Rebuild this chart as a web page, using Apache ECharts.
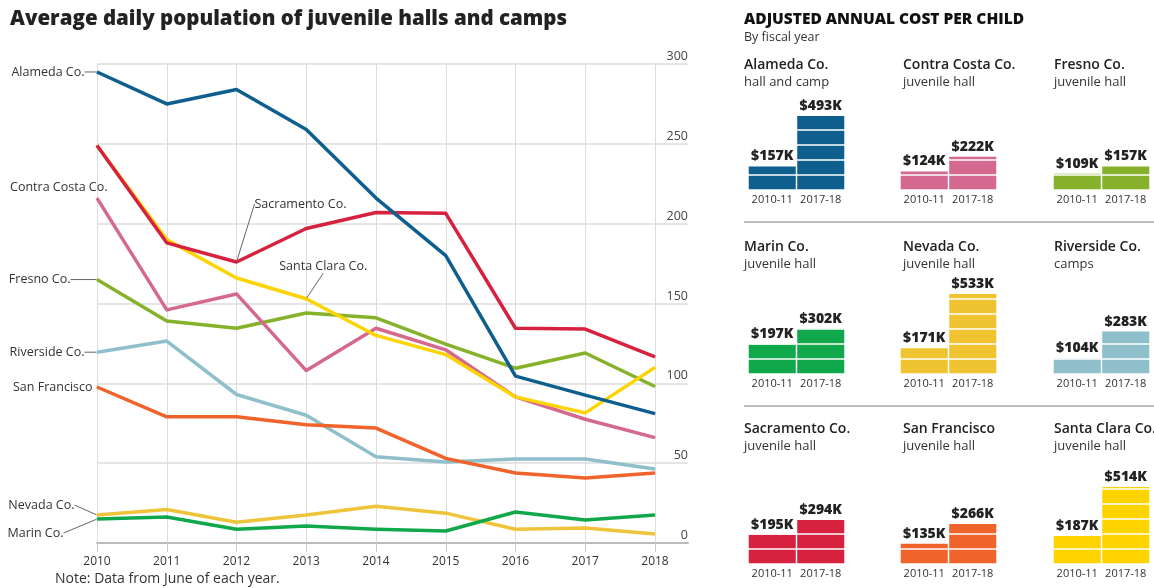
<!DOCTYPE html>
<html><head><meta charset="utf-8">
<script src="https://cdn.jsdelivr.net/npm/echarts@6/dist/echarts.min.js"></script>
<style>html,body{margin:0;padding:0;background:#fff}#c{width:1154px;height:588px}</style>
</head><body><div id="c"></div>
<script>
// ---- Data: average daily population ----
const years = ['2010','2011','2012','2013','2014','2015','2016','2017','2018'];
const alameda      = [295, 275, 284, 259, 216, 180, 104.5, 92.6, 81];
const sacramento   = [249, 188, 176, 197, 207, 206.5, 134.5, 134, 116.5];
const santaClara   = [249, 190, 166, 153, 130, 118, 91.5, 81.5, 110];
const contraCosta  = [216, 146, 156, 108, 134.5, 121, 91.5, 77.5, 66];
const fresno       = [165, 139, 134.5, 144, 141, 124.5, 109.5, 119, 98];
const riverside    = [119.5, 126.5, 93, 80, 54, 50.7, 52.6, 52.6, 46.3];
const sanFrancisco = [97.7, 79, 79, 74, 72, 53, 43.8, 40.7, 43.8];
const nevada       = [17.5, 21, 13, 17.5, 23, 18.7, 8.6, 9.4, 5.6];
const marin        = [15, 16.3, 8.6, 10.6, 8.6, 7.5, 19.4, 14.4, 17.5];
const popMin = 0, popMax = 300, popStep = 50;

// ---- Data: adjusted annual cost per child (thousand $) ----
const costCounties = ['Alameda Co.','Contra Costa Co.','Fresno Co.','Marin Co.','Nevada Co.','Riverside Co.','Sacramento Co.','San Francisco','Santa Clara Co.'];
const costTypes = ['hall and camp','juvenile hall','juvenile hall','juvenile hall','juvenile hall','camps','juvenile hall','juvenile hall','juvenile hall'];
const fiscalYears = ['2010-11','2017-18'];
const cost2010 = [157, 124, 109, 197, 171, 104, 195, 135, 187];
const cost2017 = [493, 222, 157, 302, 533, 283, 294, 266, 514];
const costMax = 600, costStep = 100;

// ---- Styling ----
const FONT = '"Open Sans", Roboto, sans-serif';
const C = {
  alameda:'#0f5f8e', sacramento:'#d6213f', santaClara:'#fdd400', contraCosta:'#d4688f',
  fresno:'#86b22b', riverside:'#8fbfca', sanFrancisco:'#f0632a', nevada:'#eec43a', marin:'#11a84b'
};
const costColors = [C.alameda, C.contraCosta, C.fresno, C.marin, '#f0c431', C.riverside, C.sacramento, C.sanFrancisco, '#fdd300'];

function lineSeries(name, data, color, lab) {
  const s = {
    type:'line', name, xAxisIndex:0, yAxisIndex:0,
    symbol:'circle', symbolSize:1, showSymbol:true, silent:true,
    lineStyle:{color, width:3.5, join:'round'}, itemStyle:{color},
    emphasis:{disabled:true},
    data: data.map((v,i) => (lab && i === lab.idx) ? {
      value:v,
      label:{show:true, formatter:name, position:lab.pos, distance:5,
             fontFamily:FONT, fontSize:12.5, color:'#333'}
    } : v)
  };
  if (lab) {
    s.labelLayout = {dx:lab.dx, dy:lab.dy};
    s.labelLine = {show:!!lab.leader, lineStyle:{color:'#666', width:1}};
  }
  return s;
}

const series = [
  lineSeries('Riverside Co.', riverside, C.riverside, {idx:0,pos:'left',dx:-7,dy:0,leader:true}),
  lineSeries('San Francisco', sanFrancisco, C.sanFrancisco, {idx:0,pos:'left',dx:1,dy:0,leader:false}),
  lineSeries('Nevada Co.', nevada, C.nevada, {idx:0,pos:'left',dx:-17,dy:-10,leader:true}),
  lineSeries('Marin Co.', marin, C.marin, {idx:0,pos:'left',dx:-28,dy:14,leader:true}),
  lineSeries('Fresno Co.', fresno, C.fresno, {idx:0,pos:'left',dx:-21,dy:0,leader:true}),
  lineSeries('Contra Costa Co.', contraCosta, C.contraCosta, {idx:0,pos:'left',dx:16,dy:-11,leader:false}),
  lineSeries('Santa Clara Co.', santaClara, C.santaClara, {idx:3,pos:'top',dx:17,dy:-20,leader:true}),
  lineSeries('Sacramento Co.', sacramento, C.sacramento, {idx:2,pos:'top',dx:64,dy:-46,leader:true}),
  lineSeries('Alameda Co.', alameda, C.alameda, {idx:0,pos:'left',dx:-7,dy:0,leader:true})
];

const grids = [
  {left:97, top:64, width:558, height:479},
  {left:97, top:64, width:591, height:479}
];
const xAxes = [
  {type:'category', gridIndex:0, data:years, boundaryGap:false,
   axisLine:{show:false},
   axisTick:{show:true, length:9, lineStyle:{color:'#ccc', width:1}},
   axisLabel:{margin:13, fontFamily:FONT, fontSize:12, color:'#333'},
   splitLine:{show:true, lineStyle:{color:'#ddd', width:1}}},
  {type:'value', gridIndex:1, min:0, max:1,
   axisLine:{show:true, lineStyle:{color:'#bbb', width:2}},
   axisTick:{show:false}, axisLabel:{show:false}, splitLine:{show:false}}
];
const yAxes = [
  {type:'value', gridIndex:0, min:popMin, max:popMax, show:false},
  {type:'value', gridIndex:1, min:popMin, max:popMax, interval:popStep, position:'right',
   axisLine:{show:false}, axisTick:{show:false},
   splitLine:{show:true, lineStyle:{color:'#ddd', width:1.5}},
   axisLabel:{inside:true, verticalAlign:'bottom', margin:0, padding:[0,0,1,0],
              fontFamily:FONT, fontSize:12.5, color:'#444'}}
];

const titles = [
  {text:'Average daily population of juvenile halls and camps', left:10, top:9, padding:0,
   textStyle:{fontFamily:FONT, fontSize:20.5, fontWeight:800, color:'#222'}},
  {text:'ADJUSTED ANNUAL COST PER CHILD', subtext:'By fiscal year', left:744, top:12, padding:0, itemGap:3,
   textStyle:{fontFamily:FONT, fontSize:15.5, fontWeight:800, color:'#111'},
   subtextStyle:{fontFamily:FONT, fontSize:12.5, color:'#333'}},
  {text:'Note: Data from June of each year.', left:55, top:572, padding:0,
   textStyle:{fontFamily:FONT, fontSize:14, fontWeight:'normal', color:'#333'}}
];

const colLeft = [748, 900, 1053];
const titleLeft = [744, 903, 1054];
const rowTop = [100, 284, 474];
const titleTop = [58, 240, 422];

costCounties.forEach((name, i) => {
  const col = i % 3, row = Math.floor(i / 3);
  const gi = grids.length;
  grids.push({left:colLeft[col], top:rowTop[row], width:97, height:90});
  xAxes.push({type:'category', gridIndex:gi, data:fiscalYears,
    axisLine:{show:false}, axisTick:{show:false},
    axisLabel:{interval:0, margin:4, fontFamily:FONT, fontSize:11, color:'#333'}});
  yAxes.push({type:'value', gridIndex:gi, min:0, max:costMax, interval:costStep, z:5,
    axisLine:{show:false}, axisTick:{show:false}, axisLabel:{show:false},
    splitLine:{show:true, lineStyle:{color:'#fff', width:1.5}}});
  const vals = [cost2010[i], cost2017[i]];
  series.push({type:'bar', xAxisIndex:gi, yAxisIndex:gi, data:vals, silent:true,
    barGap:'-100%', barCategoryGap:'3%', itemStyle:{color:costColors[i]}, z:2});
  series.push({type:'bar', xAxisIndex:gi, yAxisIndex:gi, data:vals, silent:true,
    barGap:'-100%', barCategoryGap:'3%', itemStyle:{color:'rgba(0,0,0,0)'}, z:10,
    label:{show:true, position:'top', distance:3, formatter:p => '$' + p.value + 'K',
           fontFamily:FONT, fontSize:14, fontWeight:800, color:'#222'}});
  titles.push({text:name, subtext:costTypes[i], left:titleLeft[col], top:titleTop[row], padding:0, itemGap:4,
    textStyle:{fontFamily:FONT, fontSize:14, fontWeight:600, color:'#222'},
    subtextStyle:{fontFamily:FONT, fontSize:13, color:'#333'}});
});

const chart = echarts.init(document.getElementById('c'), null, {renderer:'canvas'});
chart.setOption({
  animation:false,
  backgroundColor:'#fff',
  title:titles,
  grid:grids, xAxis:xAxes, yAxis:yAxes, series,
  graphic:[
    {type:'line', shape:{x1:744, y1:222, x2:1154, y2:222}, style:{stroke:'#bbb', lineWidth:2}, silent:true},
    {type:'line', shape:{x1:744, y1:406, x2:1154, y2:406}, style:{stroke:'#bbb', lineWidth:2}, silent:true}
  ]
});
</script></body></html>
